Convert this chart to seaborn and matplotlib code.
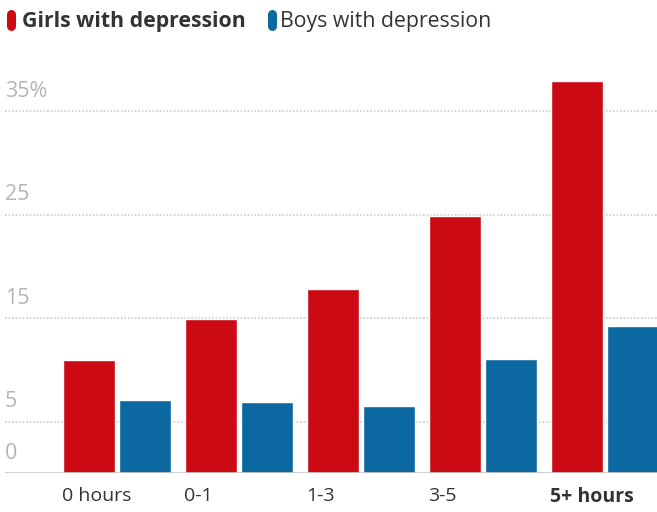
import seaborn as sns
import pandas as pd
import matplotlib.pyplot as plt
from matplotlib.lines import Line2D
import matplotlib.transforms as mtransforms

# screen time per day vs share with depressive symptoms (%)
hours = ['0 hours', '0-1', '1-3', '3-5', '5+ hours']
girls = [11.0, 14.9, 17.8, 24.9, 37.9]
boys = [7.1, 6.9, 6.5, 11.1, 14.2]
groups = ['Girls with depression', 'Boys with depression']
ytick_vals = [0, 5, 15, 25, 35]
ytick_labels = ['0', '5', '15', '25', '35%']

RED = '#cc0a14'
BLUE = '#0b68a1'

df = pd.DataFrame({
    'hours': hours * 2,
    'pct': girls + boys,
    'group': [groups[0]] * len(hours) + [groups[1]] * len(hours),
})

sns.set_style('white')
plt.rcParams['font.family'] = ['Open Sans', 'DejaVu Sans']

fig = plt.figure(figsize=(6.57, 5.12), dpi=100)
ax = fig.add_axes([0.0076, 0.0756, 0.9924, 0.8078])

sns.barplot(data=df, x='hours', y='pct', hue='group', palette=[RED, BLUE],
            width=0.92, gap=0.06, saturation=1, legend=False, ax=ax, zorder=3)

ax.set_xlim(-0.918, 4.426)
ax.set_ylim(0, 40)
for s in ax.spines.values():
    s.set_visible(False)

# dotted gridlines + solid baseline
for v in ytick_vals:
    if v == 0:
        ax.axhline(v, color='#c8c8c8', lw=1.2, zorder=4)
    else:
        ax.axhline(v, color='#c4c4c4', lw=1.1, ls=(0, (1, 1.3)), zorder=1)

ax.set_yticks([])
ax.set_ylabel('')
ax.set_xlabel('')
trans = mtransforms.blended_transform_factory(ax.transAxes, ax.transData)
for v, lab in zip(ytick_vals, ytick_labels):
    ax.text(0.0, v + 0.9, lab, transform=trans, ha='left', va='bottom',
            fontsize=15.5, color='#b5b5b5')

# x labels left aligned at the girls bar
ax.set_xticks([i - 0.447 for i in range(len(hours))])
ax.set_xticklabels(hours, ha='left', fontsize=14, color='#333333')
ax.tick_params(axis='x', length=0, pad=10)
ax.get_xticklabels()[-1].set_fontweight('bold')

# legend: rounded pills drawn as thick lines with round caps
for x0, c in [(10.5, RED), (271.5, BLUE)]:
    fig.add_artist(Line2D([x0 / 657, x0 / 657], [1 - 25.5 / 512, 1 - 13.5 / 512],
                          transform=fig.transFigure, color=c, lw=6.5,
                          solid_capstyle='round'))
fig.text(22 / 657, 1 - 21 / 512, groups[0], fontsize=15.3, fontweight='bold',
         color='#333333', va='center', ha='left')
fig.text(280 / 657, 1 - 21 / 512, groups[1], fontsize=15.3,
         color='#333333', va='center', ha='left')

fig.savefig('out.png', dpi=100)
